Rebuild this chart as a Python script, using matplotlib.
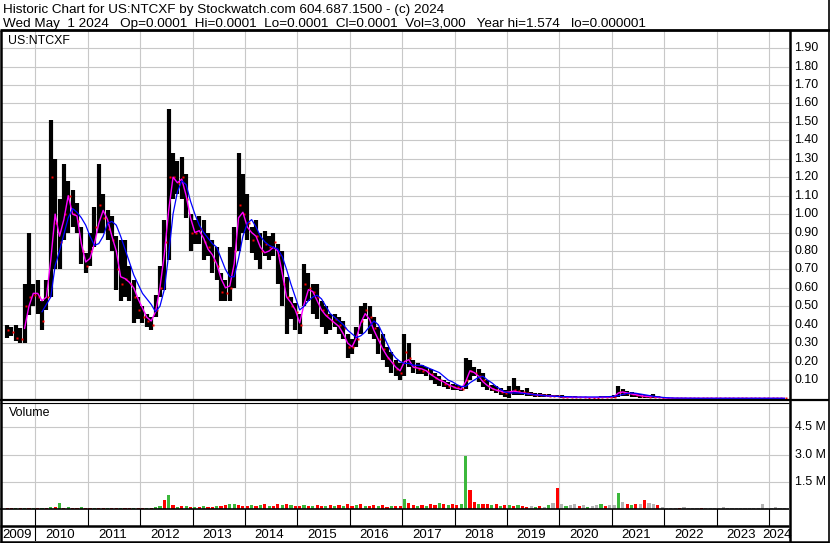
import numpy as np
import matplotlib
matplotlib.use("Agg")
import matplotlib.pyplot as plt
from matplotlib.lines import Line2D
from matplotlib.transforms import blended_transform_factory as blend

plt.rcParams['font.family'] = ['Liberation Sans', 'DejaVu Sans']

# ---------------- data (monthly, starting June 2009) ----------------
start_year, start_month = 2009, 6

high = [0.40, 0.39, 0.40, 0.38, 0.62, 0.90, 0.62,
        0.64, 0.53, 0.64, 1.51, 1.30, 1.08, 1.27, 1.18, 1.13, 1.06, 0.93, 0.79,
        0.90, 1.04, 1.27, 1.11, 1.02, 0.99, 0.88, 0.86, 0.86, 0.72, 0.64, 0.55,
        0.50, 0.46, 0.44, 0.56, 0.72, 0.97, 1.57, 1.33, 1.29, 1.31, 1.22, 1.00,
        0.97, 0.99, 0.97, 0.90, 0.86, 0.82, 0.68, 0.64, 0.82, 0.93, 1.33, 1.22,
        1.11, 0.93, 0.97, 0.90, 0.91, 0.88, 0.90, 0.84, 0.80, 0.66, 0.55, 0.52,
        0.46, 0.73, 0.68, 0.62, 0.62, 0.53, 0.50, 0.46, 0.46, 0.44, 0.42, 0.35,
        0.32, 0.39, 0.50, 0.52, 0.50, 0.44, 0.39, 0.35, 0.28, 0.25, 0.21, 0.19,
        0.35, 0.30, 0.21, 0.19, 0.18, 0.17, 0.16, 0.14, 0.12, 0.10, 0.09, 0.08,
        0.075, 0.07, 0.22, 0.21, 0.17, 0.16, 0.14, 0.10, 0.075, 0.065, 0.055, 0.046,
        0.065, 0.11, 0.065, 0.046, 0.055, 0.037, 0.032, 0.03, 0.025, 0.022, 0.02, 0.018,
        0.016, 0.015, 0.012, 0.012, 0.01, 0.01, 0.01, 0.01, 0.01, 0.012, 0.012, 0.014,
        0.02, 0.065, 0.05, 0.04, 0.035, 0.03, 0.025, 0.02, 0.02, 0.022, 0.012, 0.008,
        0.004, 0.003, 0.003, 0.002, 0.002, 0.002, 0.002, 0.002, 0.002, 0.002, 0.002, 0.002,
        0.002, 0.002, 0.001, 0.001, 0.001, 0.001, 0.001, 0.001, 0.001, 0.001, 0.001, 0.001,
        0.001, 0.001, 0.0005, 0.0001]

low = [0.33, 0.34, 0.31, 0.30, 0.30, 0.45, 0.50,
       0.46, 0.37, 0.48, 0.55, 0.70, 0.70, 0.86, 0.90, 0.93, 0.90, 0.73, 0.68,
       0.72, 0.82, 0.90, 0.90, 0.86, 0.80, 0.59, 0.53, 0.55, 0.53, 0.41, 0.43,
       0.41, 0.39, 0.37, 0.44, 0.55, 0.59, 0.75, 1.08, 1.11, 1.08, 0.98, 0.80,
       0.84, 0.84, 0.75, 0.77, 0.68, 0.64, 0.53, 0.53, 0.53, 0.60, 0.80, 0.90,
       0.86, 0.79, 0.75, 0.70, 0.77, 0.75, 0.77, 0.62, 0.50, 0.35, 0.43, 0.37,
       0.35, 0.50, 0.53, 0.46, 0.43, 0.39, 0.35, 0.37, 0.39, 0.35, 0.32, 0.22,
       0.24, 0.28, 0.35, 0.43, 0.35, 0.32, 0.24, 0.21, 0.17, 0.14, 0.12, 0.10,
       0.12, 0.17, 0.14, 0.13, 0.13, 0.12, 0.10, 0.08, 0.07, 0.06, 0.05, 0.046,
       0.046, 0.04, 0.05, 0.10, 0.12, 0.09, 0.06, 0.046, 0.04, 0.03, 0.02, 0.01,
       0.005, 0.02, 0.02, 0.02, 0.015, 0.015, 0.01, 0.01, 0.01, 0.008, 0.008, 0.006,
       0.005, 0.004, 0.003, 0.003, 0.003, 0.003, 0.003, 0.003, 0.003, 0.003, 0.004, 0.004,
       0.005, 0.01, 0.015, 0.015, 0.01, 0.01, 0.005, 0.005, 0.004, 0.003, 0.002, 0.001,
       0.0005, 0.0005, 0.0005, 0.0003, 0.0003, 0.0003, 0.0003, 0.0003, 0.0002, 0.0002, 0.0002, 0.0002,
       0.0002, 0.0002, 0.0001, 0.0001, 0.0001, 0.0001, 0.0001, 0.0001, 0.0001, 0.0001, 0.0001, 0.0001,
       0.0001, 0.0001, 0.0001, 0.0001]

close = [0.37, 0.36, 0.33, 0.32, 0.50, 0.55, 0.56,
         0.55, 0.42, 0.55, 1.20, 0.95, 0.85, 1.00, 1.10, 1.00, 0.96, 0.80, 0.72,
         0.80, 0.93, 1.05, 0.98, 0.92, 0.86, 0.70, 0.62, 0.65, 0.62, 0.55, 0.48,
         0.44, 0.42, 0.40, 0.48, 0.60, 0.85, 1.20, 1.20, 1.17, 1.20, 1.08, 0.90,
         0.90, 0.92, 0.85, 0.82, 0.75, 0.72, 0.58, 0.57, 0.60, 0.80, 1.05, 1.00,
         0.95, 0.86, 0.88, 0.80, 0.84, 0.82, 0.85, 0.78, 0.62, 0.55, 0.50, 0.47,
         0.40, 0.62, 0.60, 0.58, 0.55, 0.48, 0.45, 0.42, 0.43, 0.40, 0.38, 0.28,
         0.28, 0.32, 0.42, 0.48, 0.44, 0.38, 0.32, 0.27, 0.22, 0.19, 0.16, 0.14,
         0.25, 0.22, 0.17, 0.16, 0.15, 0.15, 0.13, 0.11, 0.10, 0.08, 0.07, 0.06,
         0.06, 0.05, 0.10, 0.15, 0.14, 0.12, 0.10, 0.07, 0.05, 0.045, 0.035, 0.03,
         0.035, 0.045, 0.04, 0.035, 0.03, 0.025, 0.02, 0.02, 0.018, 0.015, 0.013, 0.012,
         0.01, 0.008, 0.006, 0.006, 0.006, 0.006, 0.005, 0.005, 0.005, 0.006, 0.007, 0.008,
         0.01, 0.035, 0.03, 0.028, 0.022, 0.02, 0.015, 0.012, 0.01, 0.01, 0.006, 0.004,
         0.002, 0.0015, 0.001, 0.001, 0.001, 0.001, 0.001, 0.001, 0.001, 0.001, 0.001, 0.001,
         0.001, 0.001, 0.0005, 0.0005, 0.0005, 0.0005, 0.0005, 0.0005, 0.0005, 0.0005, 0.0005, 0.0005,
         0.0005, 0.0005, 0.0001, 0.0001]

nan = float('nan')
ma_fast = [nan, nan, nan, nan, 0.38, 0.50, 0.57,
           0.57, 0.53, 0.55, 0.75, 1.00, 0.88, 0.97, 1.10, 1.00, 0.99, 0.84, 0.74,
           0.76, 0.84, 0.95, 1.02, 0.97, 0.88, 0.80, 0.66, 0.65, 0.63, 0.60, 0.54,
           0.49, 0.44, 0.42, 0.47, 0.60, 0.78, 1.02, 1.20, 1.17, 1.19, 1.10, 0.98,
           0.90, 0.91, 0.87, 0.81, 0.78, 0.73, 0.65, 0.60, 0.61, 0.73, 0.98, 1.01,
           0.93, 0.90, 0.88, 0.82, 0.79, 0.80, 0.82, 0.80, 0.68, 0.55, 0.52, 0.48,
           0.41, 0.51, 0.59, 0.58, 0.53, 0.48, 0.45, 0.43, 0.41, 0.39, 0.35, 0.30,
           0.28, 0.33, 0.41, 0.46, 0.43, 0.37, 0.32, 0.27, 0.23, 0.20, 0.17, 0.15,
           0.20, 0.21, 0.17, 0.165, 0.16, 0.15, 0.13, 0.115, 0.10, 0.09, 0.075, 0.065,
           0.055, 0.05, 0.09, 0.15, 0.14, 0.12, 0.09, 0.07, 0.055, 0.045, 0.04, 0.033,
           0.035, 0.04, 0.035, 0.03, 0.027, 0.023, 0.02, 0.018, 0.016, 0.014, 0.012, 0.011,
           0.009, 0.008, 0.007, 0.006, 0.006, 0.006, 0.005, 0.005, 0.005, 0.006, 0.007, 0.008,
           0.01, 0.03, 0.035, 0.03, 0.024, 0.02, 0.015, 0.012, 0.01, 0.01, 0.007, 0.004,
           0.002, 0.0015, 0.001, 0.001, 0.001, 0.001, 0.001, 0.001, 0.001, 0.001, 0.001, 0.001,
           0.001, 0.001, 0.0008, 0.0006, 0.0005, 0.0005, 0.0005, 0.0005, 0.0005, 0.0005, 0.0005, 0.0005,
           0.0005, 0.0005, 0.0003, 0.0002]

ma_slow = [nan, nan, nan, nan, nan, nan, nan,
           nan, 0.47, 0.51, 0.55, 0.72, 0.80, 0.89, 0.98, 1.03, 1.01, 0.98, 0.94,
           0.88, 0.83, 0.84, 0.88, 0.95, 0.96, 0.94, 0.88, 0.81, 0.74, 0.67, 0.62,
           0.57, 0.54, 0.51, 0.47, 0.50, 0.59, 0.78, 1.00, 1.12, 1.18, 1.16, 1.07,
           1.00, 0.94, 0.90, 0.87, 0.84, 0.82, 0.76, 0.70, 0.66, 0.66, 0.76, 0.88,
           0.95, 0.97, 0.93, 0.88, 0.85, 0.83, 0.82, 0.81, 0.77, 0.70, 0.62, 0.55,
           0.48, 0.50, 0.53, 0.55, 0.56, 0.54, 0.50, 0.46, 0.44, 0.42, 0.40, 0.37,
           0.35, 0.33, 0.34, 0.36, 0.39, 0.42, 0.40, 0.35, 0.30, 0.25, 0.22, 0.20,
           0.19, 0.19, 0.18, 0.18, 0.18, 0.17, 0.16, 0.15, 0.14, 0.12, 0.10, 0.09,
           0.075, 0.065, 0.065, 0.085, 0.10, 0.115, 0.12, 0.10, 0.085, 0.065, 0.05, 0.035,
           0.03, 0.03, 0.03, 0.028, 0.025, 0.022, 0.02, 0.017, 0.015, 0.014, 0.012, 0.011,
           0.01, 0.01, 0.009, 0.008, 0.008, 0.008, 0.008, 0.008, 0.008, 0.008, 0.009, 0.01,
           0.012, 0.015, 0.022, 0.027, 0.03, 0.028, 0.024, 0.02, 0.016, 0.012, 0.009, 0.006,
           0.004, 0.003, 0.002, 0.002, 0.0015, 0.0015, 0.001, 0.001, 0.001, 0.001, 0.001, 0.001,
           0.001, 0.001, 0.001, 0.001, 0.001, 0.001, 0.001, 0.001, 0.001, 0.001, 0.001, 0.001,
           0.001, 0.001, 0.001, 0.001]

# volume in millions of shares
volume = [0.04, 0.03, 0.05, 0.04, 0.08, 0.05, 0.04,
          0.06, 0.08, 0.05, 0.10, 0.12, 0.33, 0.08, 0.10, 0.06, 0.07, 0.12, 0.05,
          0.05, 0.06, 0.08, 0.06, 0.04, 0.05, 0.04, 0.05, 0.06, 0.04, 0.05, 0.04,
          0.05, 0.06, 0.08, 0.12, 0.15, 0.50, 0.75, 0.20, 0.12, 0.18, 0.15, 0.10,
          0.10, 0.12, 0.15, 0.10, 0.12, 0.18, 0.15, 0.22, 0.30, 0.25, 0.20, 0.15,
          0.18, 0.20, 0.15, 0.20, 0.25, 0.18, 0.15, 0.30, 0.20, 0.25, 0.20, 0.15,
          0.15, 0.20, 0.18, 0.15, 0.20, 0.15, 0.18, 0.22, 0.15, 0.20, 0.15, 0.25,
          0.15, 0.20, 0.25, 0.15, 0.18, 0.20, 0.15, 0.20, 0.12, 0.15, 0.18, 0.15,
          0.55, 0.35, 0.20, 0.15, 0.20, 0.15, 0.25, 0.20, 0.35, 0.30, 0.20, 0.25,
          0.20, 0.25, 2.90, 1.05, 0.40, 0.30, 0.25, 0.30, 0.20, 0.25, 0.15, 0.20,
          0.20, 0.15, 0.20, 0.15, 0.10, 0.15, 0.12, 0.15, 0.10, 0.20, 0.35, 1.15,
          0.25, 0.15, 0.20, 0.30, 0.15, 0.20, 0.10, 0.15, 0.20, 0.30, 0.15, 0.20,
          0.20, 0.90, 0.40, 0.25, 0.20, 0.30, 0.25, 0.50, 0.35, 0.25, 0.20, 0.10,
          0.05, 0.08, 0.05, 0.04, 0.10, 0.05, 0.06, 0.04, 0.05, 0.08, 0.05, 0.06,
          0.05, 0.10, 0.05, 0.04, 0.08, 0.05, 0.06, 0.05, 0.08, 0.05, 0.25, 0.06,
          0.05, 0.10, 0.05, 0.05]

# g = up (green), r = down (red), k = unchanged (grey)
vol_dir = ("rrgrgrg" "rgrgrgrgrrgr" "rgrrgrrgrrgr" "rgrggrgrgrgr" "grgrrgrrggrr"
           "rgrgrgrrgrgr" "rgrgrrgrgrgr" "rgrgrrgrrgrr" "grrgrgrrgrgr" "rggrrgrrgrgr"
           "grgrrkgrkgkr" "kgkkrkgkkgrk" "kgkrgrkrkkrk" "kkkrkkkkrkkk" "kkkkkkkkkkkk"
           "kkkk")

year_ticks = list(range(2010, 2025))
year_labels = [str(y) for y in range(2009, 2025)]
price_ticks = [round(0.1 * k, 2) for k in range(1, 20)]
vol_ticks = [1.5, 3.0, 4.5]

header1 = "Historic Chart for US:NTCXF by Stockwatch.com 604.687.1500 - (c) 2024"
header2 = ("Wed May  1 2024   Op=0.0001  Hi=0.0001  Lo=0.0001  Cl=0.0001  "
           "Vol=3,000   Year hi=1.574   lo=0.000001")

# ---------------- layout ----------------
W, H = 830, 543
fig = plt.figure(figsize=(W / 100, H / 100), dpi=100)
fig.patch.set_facecolor('white')


def fx(px):
    return px / W


def fy(py):
    return 1 - py / H


XL = (2009.361, 2024.380)
L_PX, R_PX = 2, 789
GRID = '#c8c8c8'
FS_TICK = 8.9
FS_HEAD = 9.7
FS_YEAR = 9.5


def make_ax(top, bottom):
    ax = fig.add_axes([fx(L_PX), fy(bottom), fx(R_PX) - fx(L_PX), fy(top) - fy(bottom)])
    ax.set_xlim(*XL)
    ax.set_xticks([])
    ax.set_yticks([])
    for s in ax.spines.values():
        s.set_visible(False)
    ax.patch.set_alpha(0)
    return ax


ax_p = make_ax(31, 399)
ax_v = make_ax(403, 509)
ax_b = make_ax(509, 526)
ax_l = make_ax(527, 541)

n = len(close)
xs = np.array([start_year + (start_month - 1 + i + 0.5) / 12 for i in range(n)])

# ---- price panel ----
ax_p.set_ylim(-0.003, 1.993)
for v in price_ticks:
    ax_p.axhline(v, color=GRID, lw=0.8, zorder=0)
for yv in year_ticks:
    ax_p.axvline(yv, color=GRID, lw=0.8, zorder=0)

ax_p.vlines(xs, low, high, color='black', lw=3.0, zorder=2)
ax_p.plot(xs + 0.025, close, 's', color='#ff0000', ms=2.0, mec='none', zorder=3)
ax_p.plot(xs, ma_fast, color='#ff00ff', lw=1.0, zorder=4)
ax_p.plot(xs, ma_slow, color='#0000ff', lw=0.9, zorder=5)

tp = blend(fig.transFigure, ax_p.transData)
for v in price_ticks:
    fig.text(fx(794), v, f"{v:.2f}", transform=tp, ha='left', va='center', fontsize=FS_TICK)
fig.text(fx(8), fy(41), "US:NTCXF", ha='left', va='center', fontsize=FS_TICK)

# ---- volume panel ----
ax_v.set_ylim(0, 5.85)
for v in vol_ticks:
    ax_v.axhline(v, color=GRID, lw=0.8, zorder=0)
for yv in year_ticks:
    ax_v.axvline(yv, color=GRID, lw=0.8, zorder=0)
cmap = {'g': '#3cb83c', 'r': '#ff0000', 'k': '#b4b4b4'}
ax_v.bar(xs, volume, width=0.06, color=[cmap[c] for c in vol_dir], lw=0, zorder=2)
tv = blend(fig.transFigure, ax_v.transData)
for v in vol_ticks:
    fig.text(fx(795), v, f"{v:.1f} M", transform=tv, ha='left', va='center', fontsize=FS_TICK)
fig.text(fx(9), fy(413), "Volume", ha='left', va='center', fontsize=FS_TICK)

# ---- blank row with year separators ----
for yv in year_ticks:
    ax_b.axvline(yv, color='black', lw=0.8)

# ---- year labels ----
bounds = [XL[0]] + year_ticks + [XL[1]]
for k, lab in enumerate(year_labels):
    mid = 0.5 * (bounds[k] + bounds[k + 1])
    ax_l.text(mid - 0.035, 0.42, lab, ha='center', va='center', fontsize=FS_YEAR,
              transform=blend(ax_l.transData, ax_l.transAxes))
ax_l.axvline(2010, color='black', lw=0.8)

# ---- header ----
fig.text(fx(3), fy(13), header1, ha='left', va='baseline', fontsize=FS_HEAD)
fig.text(fx(3), fy(26.5), header2, ha='left', va='baseline', fontsize=FS_HEAD)


# ---- frame lines ----
def hline(py, x0, x1, lw):
    fig.add_artist(Line2D([fx(x0), fx(x1)], [fy(py), fy(py)], color='black', lw=lw,
                          transform=fig.transFigure, solid_capstyle='butt'))


def vline(px, y0, y1, lw):
    fig.add_artist(Line2D([fx(px), fx(px)], [fy(y0), fy(y1)], color='black', lw=lw,
                          transform=fig.transFigure, solid_capstyle='butt'))


hline(30, 0, 830, 2.0)
hline(399.7, 0, 829, 1.6)
hline(402.5, 0, 789, 0.8)
hline(509, 0, 789, 1.2)
hline(526, 0, 789, 1.8)
hline(541.8, 0, 829, 1.8)
vline(1, 30, 543, 1.8)
vline(789.5, 30, 543, 1.8)
vline(828.5, 0, 543, 1.2)

fig.savefig('out.png', dpi=100, facecolor='white')
